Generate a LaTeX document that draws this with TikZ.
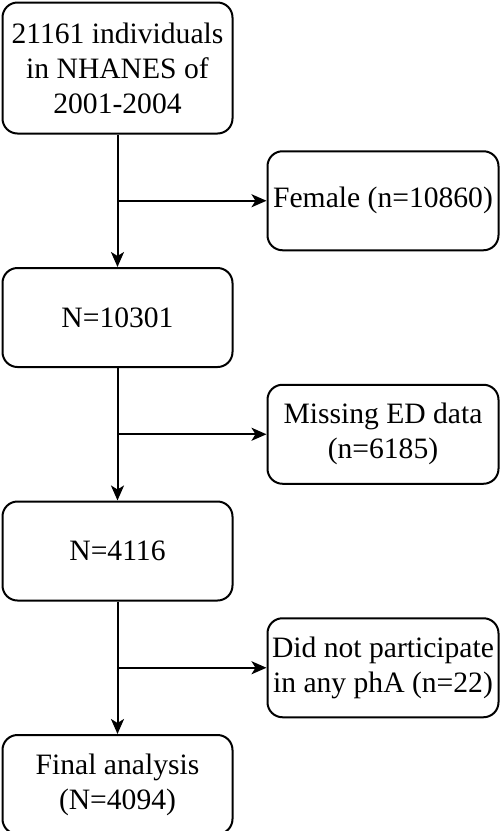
\documentclass[tikz,border=0pt]{standalone}
\usepackage{fontspec}
\setmainfont{Liberation Serif}
\usetikzlibrary{positioning,arrows.meta}

\tikzset{
  stagebox/.style={draw, line width=2pt, rounded corners=15pt, align=center,
    minimum width=230pt, minimum height=99pt, inner sep=0pt,
    font=\fontsize{29.6}{35}\selectfont},
  dropbox/.style={stagebox, minimum width=231pt},
  flowarrow/.style={line width=2pt, -{Stealth[length=15pt,width=13pt,inset=4pt]}}
}

\begin{document}
\begin{tikzpicture}[x=1pt, y=-1pt]
  \useasboundingbox (0,0) rectangle (500,831);
  % main stream
  \node[stagebox, minimum height=131pt] (start) at (117.5,68) {21161 individuals\\in NHANES of\\2001-2004};
  \node[stagebox, below=132.5pt of start] (males) {N=10301};
  \node[stagebox, below=132.5pt of males] (withed) {N=4116};
  \node[stagebox, below=132.5pt of withed] (final) {Final analysis\\(N=4094)};
  % junctions
  \path (start.south) -- (males.north) coordinate[pos=0.5] (j1);
  \path (males.south) -- (withed.north) coordinate[pos=0.5] (j2);
  \path (withed.south) -- (final.north) coordinate[pos=0.5] (j3);
  % exclusions
  \node[dropbox, right=149pt of j1] (female) {Female (n=10860)};
  \node[dropbox, right=149pt of j2] (missing) {Missing ED data\\(n=6185)};
  \node[dropbox, right=149pt of j3] (nopha) {Did not participate\\in any phA (n=22)};
  % arrows
  \draw[flowarrow] (start) -- (males);
  \draw[flowarrow] (males) -- (withed);
  \draw[flowarrow] (withed) -- (final);
  \draw[flowarrow] (j1) -- (female);
  \draw[flowarrow] (j2) -- (missing);
  \draw[flowarrow] (j3) -- (nopha);
\end{tikzpicture}
\end{document}
